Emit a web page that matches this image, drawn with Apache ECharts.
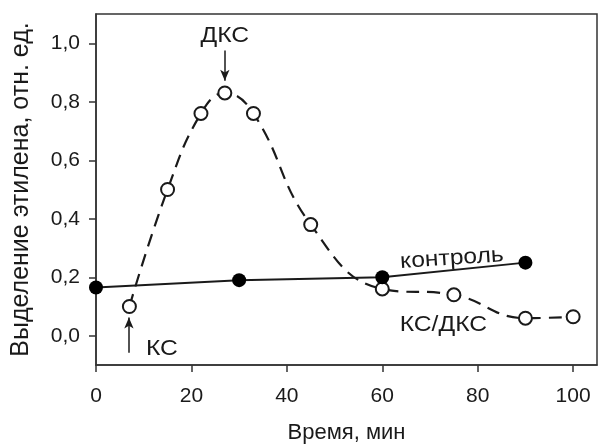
<!DOCTYPE html>
<html>
<head>
<meta charset="utf-8">
<script src="https://cdn.jsdelivr.net/npm/echarts@6/dist/echarts.min.js"></script>
<style>html,body{margin:0;padding:0;background:#fff}#c{width:598px;height:444px}</style>
</head>
<body>
<div id="c"></div>
<script>
const xTicks = [0, 20, 40, 60, 80, 100];
const yTicks = [0, 0.2, 0.4, 0.6, 0.8, 1.0];
const controlTime = [0, 30, 60, 90];
const controlValues = [0.165, 0.19, 0.20, 0.25];
const ksTime = [7, 15, 22, 27, 33, 45, 60, 75, 90, 100];
const ksValues = [0.10, 0.50, 0.76, 0.83, 0.76, 0.38, 0.16, 0.14, 0.06, 0.065];
const seriesNames = ['КС/ДКС', 'контроль'];
const xName = 'Время, мин';
const yName = 'Выделение этилена, отн. ед.';
const arrowDKS = [[27, 0.975], [27, 0.872]];
const arrowKS = [[6.9, -0.058], [6.9, 0.062]];
const labels = [
  { text: 'ДКС', at: [27, 1.024], rot: 0 },
  { text: 'КС', at: [13.8, -0.045], rot: 0 },
  { text: 'контроль', at: [74.6, 0.264], rot: 0.066 },
  { text: 'КС/ДКС', at: [72.8, 0.038], rot: 0 }
];

const FONT = '"Liberation Sans", Arial, sans-serif';
const INK = '#1a1a1a';
const chart = echarts.init(document.getElementById('c'));
const zip = (a, b) => a.map((v, i) => [v, b[i]]);

chart.setOption({
  animation: false,
  backgroundColor: '#fff',
  grid: { left: 96, right: 1, top: 14, bottom: 79, show: true, borderColor: '#333', borderWidth: 1.5,
    containLabel: false, outerBoundsMode: 'none' },
  xAxis: {
    type: 'value', min: 0, max: 105,
    name: xName, nameLocation: 'middle', nameGap: 57,
    nameTextStyle: { fontSize: 22, color: INK, fontFamily: FONT },
    axisLine: { show: true, onZero: false, lineStyle: { color: '#333', width: 1.5 } },
    axisTick: { show: true, length: 7, inside: false, customValues: xTicks, lineStyle: { color: '#333', width: 1.5 } },
    axisLabel: { customValues: xTicks, fontSize: 21, color: INK, fontFamily: FONT, margin: 21 },
    splitLine: { show: false }
  },
  yAxis: {
    type: 'value', min: -0.1, max: 1.1,
    name: yName, nameLocation: 'middle', nameGap: 62, nameRotate: 90,
    nameTextStyle: { fontSize: 25, color: INK, fontFamily: FONT },
    axisLine: { show: true, onZero: false, lineStyle: { color: '#333', width: 1.5 } },
    axisTick: { show: true, length: 7, inside: false, customValues: yTicks, lineStyle: { color: '#333', width: 1.5 } },
    axisLabel: { customValues: yTicks, fontSize: 21, color: INK, fontFamily: FONT, margin: 16,
      formatter: v => v.toFixed(1).replace('.', ',') },
    splitLine: { show: false }
  },
  series: [
    {
      name: seriesNames[0], type: 'line', smooth: 0.45,
      data: zip(ksTime, ksValues),
      symbol: 'circle', symbolSize: 13,
      itemStyle: { color: '#fff', borderColor: INK, borderWidth: 2 },
      lineStyle: { color: INK, width: 2.2, type: [13, 8] },
      z: 2,
      markLine: {
        silent: true, symbol: ['none', 'arrow'], symbolSize: [7, 11],
        label: { show: false },
        lineStyle: { color: INK, width: 1.5, type: 'solid' },
        data: [
          [{ coord: arrowDKS[0] }, { coord: arrowDKS[1] }],
          [{ coord: arrowKS[0] }, { coord: arrowKS[1] }]
        ]
      }
    },
    {
      name: seriesNames[1], type: 'line',
      data: zip(controlTime, controlValues),
      symbol: 'circle', symbolSize: 14,
      itemStyle: { color: '#000', borderColor: '#000', borderWidth: 0 },
      lineStyle: { color: INK, width: 2 },
      z: 3
    }
  ]
});

chart.setOption({
  graphic: labels.map(l => {
    const p = chart.convertToPixel({ gridIndex: 0 }, l.at);
    return {
      type: 'text', x: p[0], y: p[1], rotation: l.rot, scaleX: 1.12, z: 10,
      style: { text: l.text, fontSize: 22, fontFamily: FONT, fill: INK, align: 'center', verticalAlign: 'middle' }
    };
  })
});
</script>
</body>
</html>
